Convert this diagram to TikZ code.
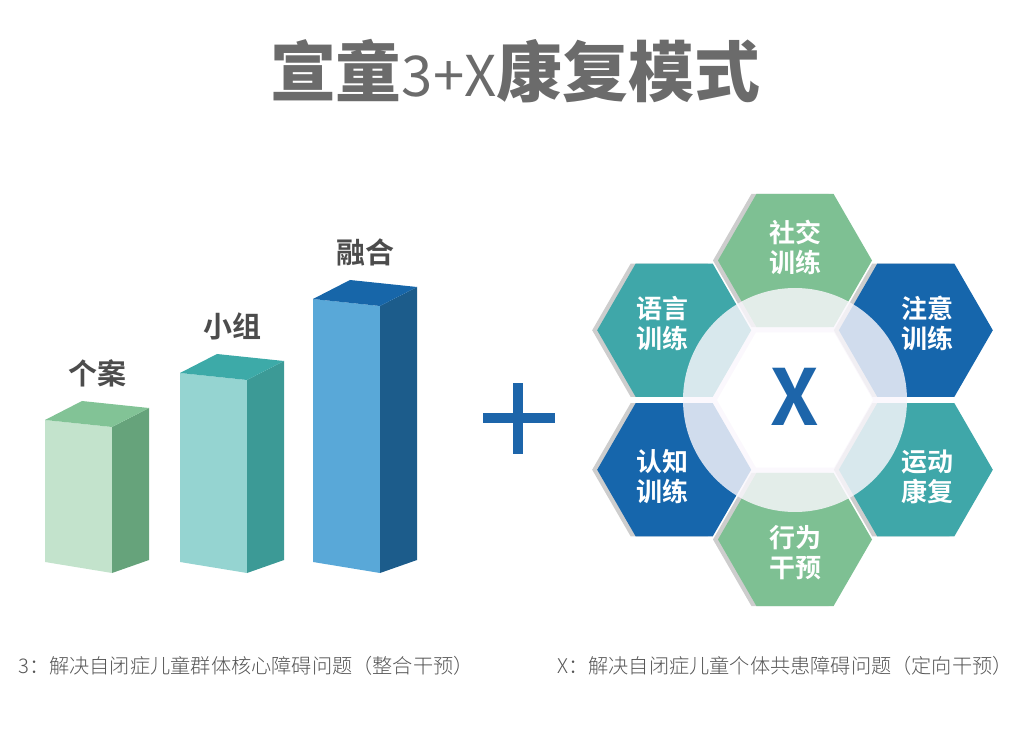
\documentclass[tikz,border=0pt]{standalone}
\usepackage{fontspec}
\newfontfamily\cjk{Noto Sans CJK SC}[BoldFont={Noto Sans CJK SC Bold}]
\newfontfamily\cjkblack{Noto Sans CJK SC Black}
\newfontfamily\cjklight{Noto Sans CJK SC Light}
\usetikzlibrary{calc}

\definecolor{titlegray}{HTML}{6B6B6B}
\definecolor{labelgray}{HTML}{4C4C4C}
\definecolor{notegray}{HTML}{555555}
\definecolor{gF}{HTML}{C3E3CC}
\definecolor{gS}{HTML}{66A37B}
\definecolor{gT}{HTML}{82C396}
\definecolor{tF}{HTML}{95D4D1}
\definecolor{tS}{HTML}{3C9A96}
\definecolor{tT}{HTML}{3DAAA8}
\definecolor{bF}{HTML}{59A8D8}
\definecolor{bS}{HTML}{1C5C8B}
\definecolor{bT}{HTML}{1766A9}
\definecolor{plusblue}{HTML}{1D65AA}
\definecolor{hexgreen}{HTML}{7EC093}
\definecolor{hexteal}{HTML}{3FA7A9}
\definecolor{hexblue}{HTML}{1666AC}
\definecolor{shadowgray}{HTML}{CDCDCD}
\definecolor{ringtint}{HTML}{FAF7FC}

\begin{document}
\begin{tikzpicture}[x=0.02cm,y=-0.02cm,
			barlabel/.style={font=\cjk\bfseries\fontsize{16.5}{18}\selectfont,text=labelgray},
			hexlabel/.style={align=center,text=white,font=\cjk\bfseries\fontsize{14.8}{17}\selectfont},
			note/.style={anchor=west,inner sep=0,text=notegray,font=\cjklight\fontsize{11.5}{13}\selectfont}
		]
		\useasboundingbox (0,0) rectangle (1014,739);
		\node[font=\cjkblack\fontsize{37.5}{40}\selectfont,text=titlegray] (T) at (515,71) {宣童{\cjk\fontsize{32}{34}\selectfont 3+X}康复模式};
		% bars
		\foreach \x/\y/\f/\s/\t/\name/\txt in {45/420/gF/gS/gT/A/个案,180/373/tF/tS/tT/B/小组,313/299/bF/bS/bT/C/融合}{
			\fill[\f] (\x,\y) -- (\x+67,\y+7) -- (\x+67,573) -- (\x,562) -- cycle;
			\fill[\s] (\x+67,\y+7) -- (\x+104,\y-12) -- (\x+104,560) -- (\x+67,573) -- cycle;
			\fill[\t] (\x,\y) -- (\x+67,\y+7) -- (\x+104,\y-12) -- (\x+37,\y-19) -- cycle;
			\node[barlabel] (\name) at (\x+52,\y-47) {\txt};
		}
		\fill[plusblue] (483,413) rectangle (555,423);
		\fill[plusblue] (513,383) rectangle (523,454);
		% hexagons
		\coordinate (O) at (795,400);
		\foreach \a in {-90,-30,30,90,150,210}
			\fill[shadowgray,shift={($(O)+(\a:139.5)+(-5,0)$)}] (0:77) -- (60:77) -- (120:77) -- (180:77) -- (240:77) -- (300:77) -- cycle;
		\foreach \a/\c in {-90/hexgreen,-30/hexblue,30/hexteal,90/hexgreen,150/hexblue,210/hexteal}
			\fill[\c,shift={($(O)+(\a:139.5)$)}] (0:77) -- (60:77) -- (120:77) -- (180:77) -- (240:77) -- (300:77) -- cycle;
		\fill[ringtint,opacity=0.82] (O) circle (112);
		\fill[white,shift={(O)}] (0:78) -- (60:78) -- (120:78) -- (180:78) -- (240:78) -- (300:78) -- cycle;
		\node[font=\cjk\bfseries\fontsize{44}{44}\selectfont,text=plusblue] (X) at (795,397) {X};
		\foreach \a/\txt [count=\i] in {-90/社交\\训练,-30/注意\\训练,30/运动\\康复,90/行为\\干预,150/认知\\训练,210/语言\\训练}
			\node[hexlabel] (H\i) at ($(O)+(\a:153)$) {\txt};
		% notes
		\node[note] (N1) at (18,666) {3：解决自闭症儿童群体核心障碍问题（整合干预）};
		\node[note] (N2) at (557,666) {X：解决自闭症儿童个体共患障碍问题（定向干预）};
	\end{tikzpicture}
\end{document}
